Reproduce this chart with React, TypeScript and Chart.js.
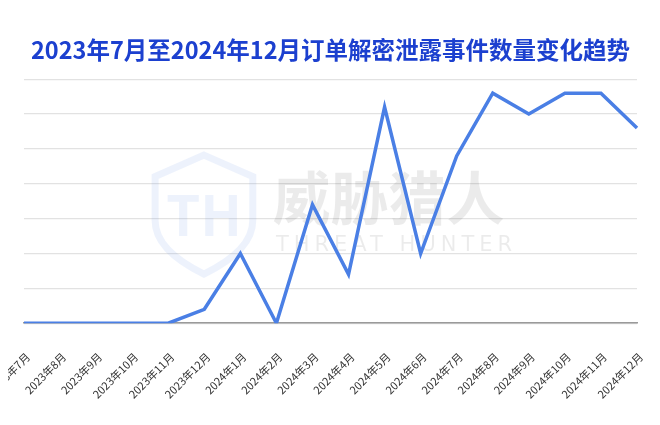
import React, { useEffect, useRef } from "react";
import { Chart, registerables } from "chart.js";

Chart.register(...registerables);

const TITLE = "2023年7月至2024年12月订单解密泄露事件数量变化趋势";
const categories = [
  "2023年7月", "2023年8月", "2023年9月", "2023年10月", "2023年11月", "2023年12月",
  "2024年1月", "2024年2月", "2024年3月", "2024年4月", "2024年5月", "2024年6月",
  "2024年7月", "2024年8月", "2024年9月", "2024年10月", "2024年11月", "2024年12月",
];
const counts = [0, 0, 0, 0, 0, 2, 10, 0, 17, 7, 31, 10, 24, 33, 30, 33, 33, 28];
const yMax = 35;
const yStep = 5;

const FONT = "'Noto Sans CJK SC', 'Noto Sans', sans-serif";

const watermark = {
  id: "watermark",
  beforeDatasetsDraw(chart: any) {
    const { ctx, width, height } = chart;
    ctx.save();
    // shield
    const sx = width * 0.235, sy = height * 0.365, sw = width * 0.148, sh = height * 0.28;
    ctx.strokeStyle = "rgba(74,127,229,0.10)";
    ctx.lineWidth = 7;
    ctx.beginPath();
    ctx.moveTo(sx + sw / 2, sy);
    ctx.lineTo(sx + sw, sy + sh * 0.18);
    ctx.lineTo(sx + sw, sy + sh * 0.55);
    ctx.quadraticCurveTo(sx + sw, sy + sh * 0.8, sx + sw / 2, sy + sh);
    ctx.quadraticCurveTo(sx, sy + sh * 0.8, sx, sy + sh * 0.55);
    ctx.lineTo(sx, sy + sh * 0.18);
    ctx.closePath();
    ctx.stroke();
    ctx.fillStyle = "rgba(74,127,229,0.10)";
    ctx.font = `bold ${Math.round(height * 0.13)}px ${FONT}`;
    ctx.textAlign = "center";
    ctx.textBaseline = "middle";
    ctx.fillText("TH", sx + sw / 2, sy + sh * 0.5);
    // text
    ctx.fillStyle = "rgba(0,0,0,0.08)";
    ctx.textAlign = "left";
    ctx.font = `bold ${Math.round(height * 0.137)}px ${FONT}`;
    ctx.fillText("威胁猎人", width * 0.413, height * 0.466);
    ctx.font = `${Math.round(height * 0.05)}px 'DejaVu Sans', sans-serif`;
    (ctx as any).letterSpacing = "5px";
    ctx.fillText("THREAT HUNTER", width * 0.418, height * 0.577);
    ctx.restore();
  },
};

export default function App() {
  const ref = useRef<HTMLCanvasElement | null>(null);
  useEffect(() => {
    if (!ref.current) return;
    const chart = new Chart(ref.current, {
      type: "line",
      data: {
        labels: categories,
        datasets: [
          {
            data: counts,
            borderColor: "#4A7FE5",
            backgroundColor: "#4A7FE5",
            borderWidth: 3.5,
            pointRadius: 0,
            tension: 0,
            fill: false,
          },
        ],
      },
      options: {
        animation: false,
        responsive: true,
        maintainAspectRatio: false,
        layout: { padding: { left: 24, right: 23, top: 0, bottom: 5 } },
        plugins: {
          legend: { display: false },
          tooltip: { enabled: false },
          title: {
            display: true,
            text: TITLE,
            color: "#1C40CF",
            font: { size: 23.5, weight: "bold", family: FONT },
            padding: { top: 36, bottom: 15 },
          },
        },
        scales: {
          x: {
            grid: { display: false },
            border: { display: true, color: "#9a9a9a", width: 1.5 },
            ticks: {
              color: "#333",
              font: { size: 11, family: FONT },
              maxRotation: 45,
              minRotation: 45,
              autoSkip: false,
              padding: 19,
              labelOffset: 4,
            },
            afterFit: (s: any) => {
              s.paddingLeft = 0;
              s.paddingRight = 0;
            },
          },
          y: {
            min: 0,
            max: yMax,
            ticks: { display: false, stepSize: yStep },
            grid: { color: "#e2e2e2", drawTicks: false, lineWidth: 1.2 },
            border: { display: false },
          },
        },
      },
      plugins: [watermark],
    });
    return () => chart.destroy();
  }, []);
  return (
    <div style={{ position: "relative", width: 660, height: 425, margin: -8 }}>
      <canvas ref={ref} />
    </div>
  );
}
